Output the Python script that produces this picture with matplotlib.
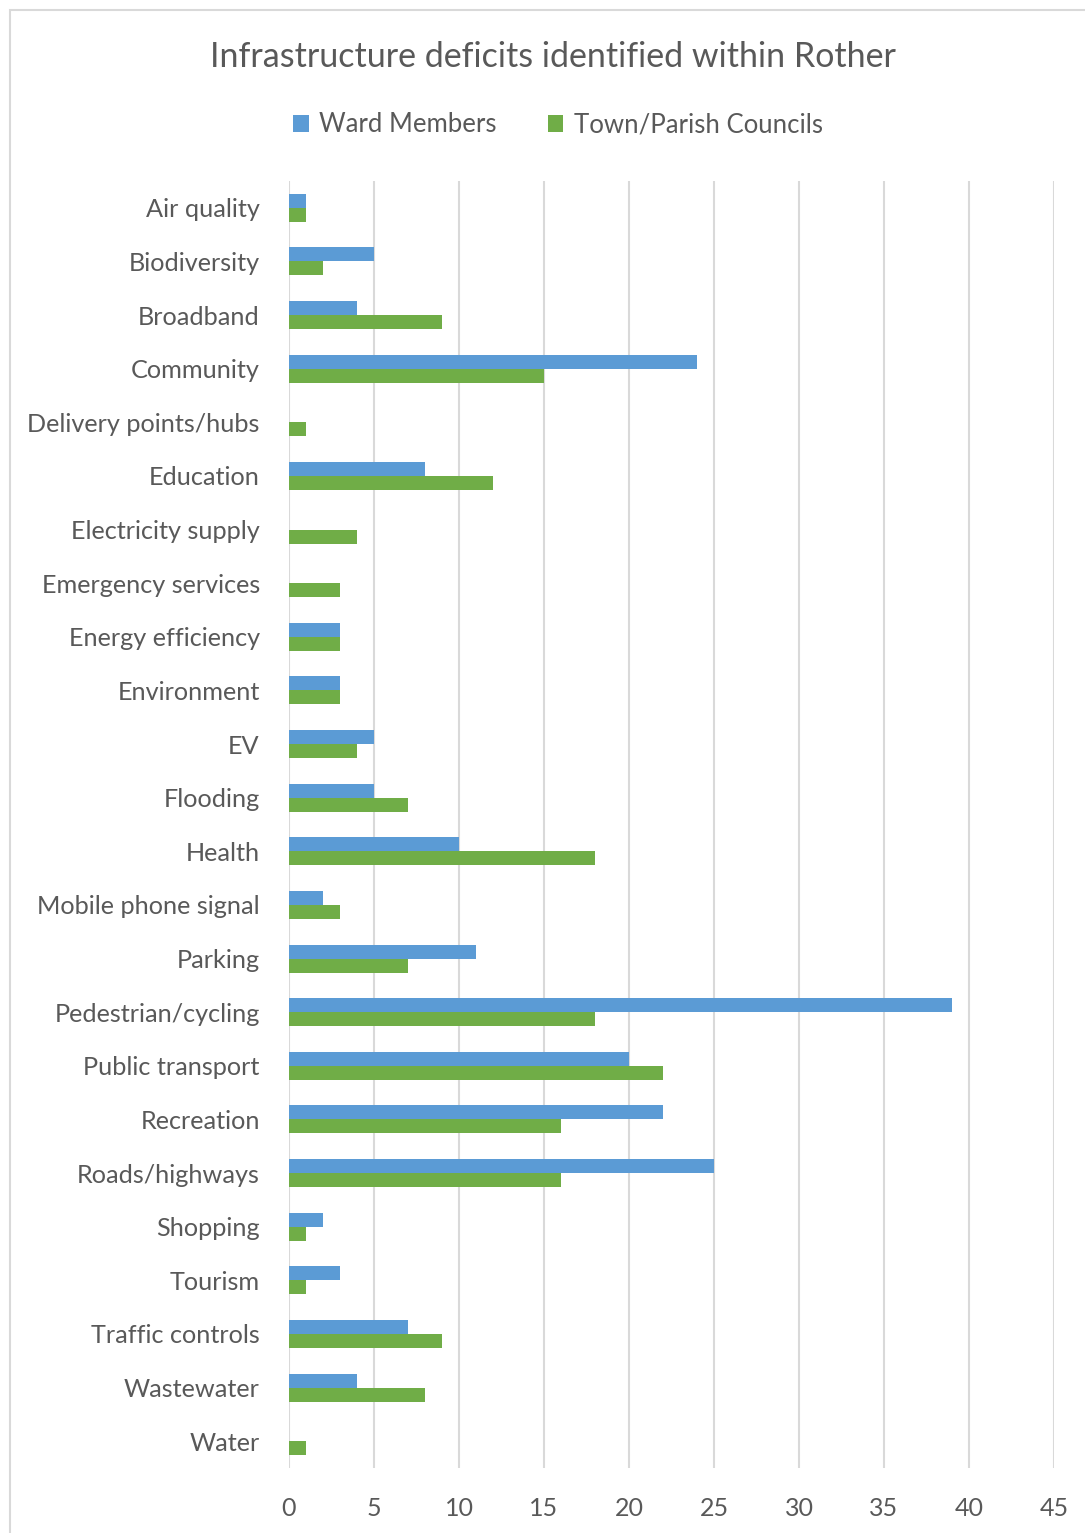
import numpy as np
import matplotlib.pyplot as plt
from matplotlib.patches import Rectangle

categories = ['Air quality', 'Biodiversity', 'Broadband', 'Community', 'Delivery points/hubs',
              'Education', 'Electricity supply', 'Emergency services', 'Energy efficiency',
              'Environment', 'EV', 'Flooding', 'Health', 'Mobile phone signal', 'Parking',
              'Pedestrian/cycling', 'Public transport', 'Recreation', 'Roads/highways',
              'Shopping', 'Tourism', 'Traffic controls', 'Wastewater', 'Water']
ward_members = [1, 5, 4, 24, 0, 8, 0, 0, 3, 3, 5, 5, 10, 2, 11, 39, 20, 22, 25, 2, 3, 7, 4, 0]
town_parish = [1, 2, 9, 15, 1, 12, 4, 3, 3, 3, 4, 7, 18, 3, 7, 18, 22, 16, 16, 1, 1, 9, 8, 1]
x_ticks = [0, 5, 10, 15, 20, 25, 30, 35, 40, 45]

# colours
text_color = '#595959'
grid_color = '#d9d9d9'
ward_color = '#5b9bd5'
town_color = '#70ad47'

plt.rcParams['font.family'] = ['Lato', 'DejaVu Sans']

fig = plt.figure(figsize=(10.85, 15.33), dpi=100, facecolor='white')
# outer chart border
fig.patches.append(Rectangle((10 / 1085, -0.1), 1.2, 1 - 10 / 1533 + 0.1, transform=fig.transFigure,
                             fill=False, edgecolor=grid_color, linewidth=1.5))

ax = fig.add_axes([289 / 1085, 1 - 1468 / 1533, (1054 - 289) / 1085, (1468 - 181) / 1533])

y = np.arange(len(categories))
h = 0.26
ax.barh(y - h / 2, ward_members, height=h, color=ward_color, label='Ward Members', zorder=3)
ax.barh(y + h / 2, town_parish, height=h, color=town_color, label='Town/Parish Councils', zorder=3)

ax.set_xlim(0, 45)
ax.set_ylim(len(categories) - 0.5, -0.5)
ax.set_xticks(x_ticks)
ax.set_yticks(y)
ax.set_yticklabels(categories)
ax.tick_params(axis='y', length=0, pad=21, labelsize=18.2, labelcolor=text_color)
ax.tick_params(axis='x', length=0, pad=21, labelsize=18, labelcolor=text_color)
ax.grid(axis='x', color=grid_color, linewidth=1.5, zorder=0)
for s in ax.spines.values():
    s.set_visible(False)

fig.text(553 / 1085, 1 - 57 / 1533, 'Infrastructure deficits identified within Rother',
         ha='center', va='center', fontsize=24.5, color=text_color)

leg = fig.legend(loc='center', bbox_to_anchor=(558 / 1085, 1 - 125 / 1533), ncol=2, frameon=False,
                 fontsize=18.5, handlelength=0.6, handleheight=0.6, handletextpad=0.4, columnspacing=2.0)
for t in leg.get_texts():
    t.set_color(text_color)

plt.savefig('out.png', dpi=100)
plt.close()
